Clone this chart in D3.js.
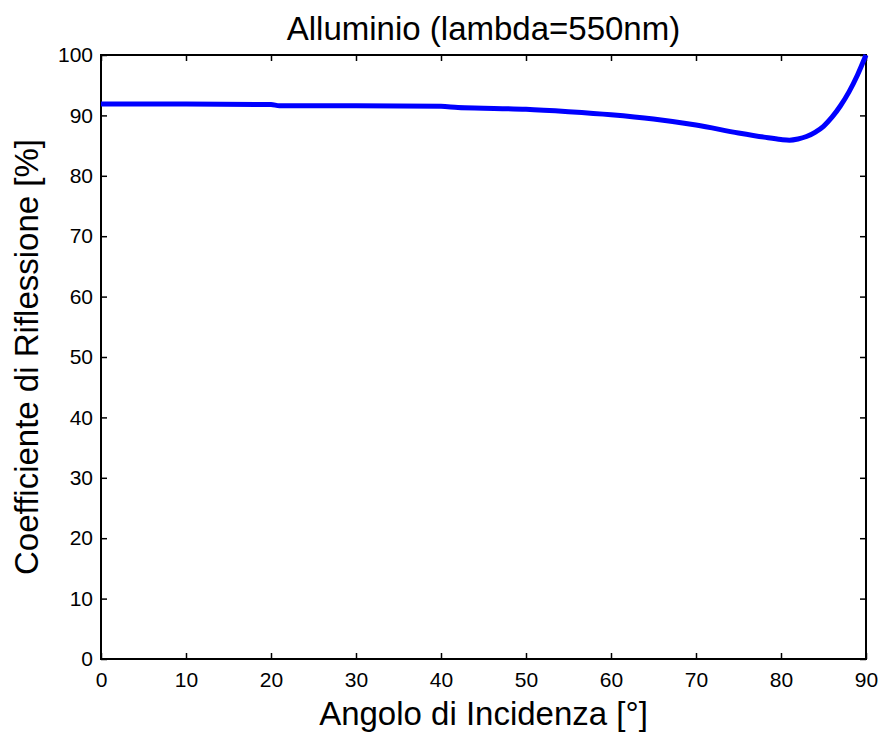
<!DOCTYPE html>
<meta charset="utf-8">
<style>
  body { margin: 0; background: #fff; }
  text { font-family: "Liberation Sans", Arial, sans-serif; fill: #000; }
</style>
<body>
<div id="chart"></div>
<script src="https://d3js.org/d3.v7.min.js"></script>
<script>
  // angle of incidence (deg) and reflectance (%)
  var angles = [0, 10, 20, 21, 30, 40, 42, 45, 50, 55, 60, 65, 70, 75, 78, 80, 81, 82, 83, 84, 85, 86, 87, 88, 89, 90];
  var reflect = [91.9, 91.9, 91.8, 91.6, 91.6, 91.5, 91.3, 91.2, 91.0, 90.6, 90.1, 89.4, 88.4, 87.1, 86.4, 86.0, 85.9, 86.1, 86.5, 87.2, 88.2, 89.7, 91.6, 93.9, 96.7, 100];
  var xTicks = [0, 10, 20, 30, 40, 50, 60, 70, 80, 90];
  var yTicks = [0, 10, 20, 30, 40, 50, 60, 70, 80, 90, 100];

  var W = 880, H = 735;
  var L = 101, R = 866, T = 55, B = 659;

  var svg = d3.select("#chart").append("svg")
    .attr("width", W)
    .attr("height", H);

  var x = d3.scaleLinear().domain([0, 90]).range([L, R]);
  var y = d3.scaleLinear().domain([0, 100]).range([B, T]);

  // ticks inward on all four sides
  var tk = 6;
  svg.append("g")
    .attr("transform", "translate(0," + B + ")")
    .call(d3.axisBottom(x).tickValues(xTicks).tickSize(-tk).tickPadding(13))
    .call(function(g) { g.select(".domain").remove(); });
  svg.append("g")
    .attr("transform", "translate(0," + T + ")")
    .call(d3.axisTop(x).tickValues(xTicks).tickSize(-tk).tickFormat(""))
    .call(function(g) { g.select(".domain").remove(); });
  svg.append("g")
    .attr("transform", "translate(" + L + ",0)")
    .call(d3.axisLeft(y).tickValues(yTicks).tickSize(-tk).tickPadding(8))
    .call(function(g) { g.select(".domain").remove(); });
  svg.append("g")
    .attr("transform", "translate(" + R + ",0)")
    .call(d3.axisRight(y).tickValues(yTicks).tickSize(-tk).tickFormat(""))
    .call(function(g) { g.select(".domain").remove(); });

  svg.selectAll(".tick line").attr("stroke", "#000").attr("stroke-width", 1.5);
  svg.selectAll(".tick text")
    .style("font-family", "'Liberation Sans', Arial, sans-serif")
    .style("font-size", "21px")
    .attr("fill", "#000");

  // box
  svg.append("rect")
    .attr("x", L).attr("y", T)
    .attr("width", R - L).attr("height", B - T)
    .attr("fill", "none")
    .attr("stroke", "#000")
    .attr("stroke-width", 2);

  var pts = angles.map(function(a, i) { return [a, reflect[i]]; });
  var line = d3.line()
    .x(function(d) { return x(d[0]); })
    .y(function(d) { return y(d[1]); })
    .curve(d3.curveMonotoneX);

  svg.append("path")
    .datum(pts)
    .attr("d", line)
    .attr("fill", "none")
    .attr("stroke", "#0000ff")
    .attr("stroke-width", 5)
    .attr("stroke-linejoin", "round");

  svg.append("text")
    .attr("x", (L + R) / 2).attr("y", 40)
    .attr("text-anchor", "middle")
    .style("font-size", "33px")
    .text("Alluminio (lambda=550nm)");

  svg.append("text")
    .attr("x", (L + R) / 2).attr("y", 725)
    .attr("text-anchor", "middle")
    .style("font-size", "33px")
    .text("Angolo di Incidenza [°]");

  svg.append("text")
    .attr("transform", "translate(38," + (T + B) / 2 + ") rotate(-90)")
    .attr("text-anchor", "middle")
    .style("font-size", "33px")
    .text("Coefficiente di Riflessione [%]");
</script>
</body>
